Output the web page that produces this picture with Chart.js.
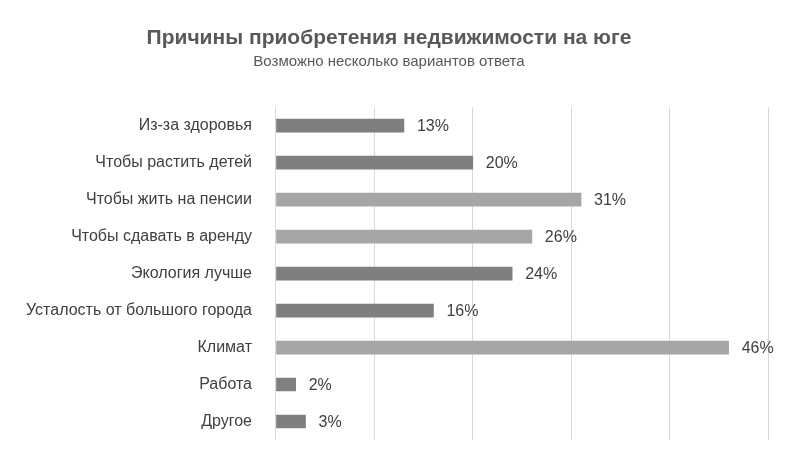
<!DOCTYPE html>
<html><head><meta charset="utf-8">
<script src="https://cdn.jsdelivr.net/npm/chart.js@4/dist/chart.umd.min.js"></script>
<style>body{margin:0;background:#fff}</style>
</head><body><canvas id="chart" width="800" height="470"></canvas>
<script>
const categories = ['Из-за здоровья','Чтобы растить детей','Чтобы жить на пенсии','Чтобы сдавать в аренду','Экология лучше','Усталость от большого города','Климат','Работа','Другое'];
const values = [13, 20, 31, 26, 24, 16, 46, 2, 3];
const highlighted = [false, false, true, true, false, false, true, false, false];

const labelPlugin = {
    id: 'labels',
    afterDatasetsDraw(chart) {
        const ctx = chart.ctx;
        ctx.save();
        ctx.font = '16px "Liberation Sans", Arial';
        ctx.fillStyle = '#404040';
        ctx.textBaseline = 'middle';
        chart.getDatasetMeta(0).data.forEach((bar, i) => {
            ctx.fillText(values[i] + '%', bar.x + 13, bar.y + 1);
        });
        ctx.restore();
    }
};

new Chart(document.getElementById('chart'), {
    type: 'bar',
    data: {
        labels: categories,
        datasets: [{
            data: values,
            backgroundColor: highlighted.map(h => h ? '#a6a6a6' : '#7f7f7f'),
            barThickness: 13
        }]
    },
    options: {
        indexAxis: 'y',
        responsive: false,
        animation: false,
        devicePixelRatio: 1,
        layout: { padding: { left: 10, right: 32, bottom: 30 } },
        plugins: {
            legend: { display: false },
            tooltip: { enabled: false },
            title: {
                display: true,
                text: 'Причины приобретения недвижимости на юге',
                color: '#595959',
                font: { family: '"Liberation Sans", Arial', size: 21, weight: 'bold' },
                padding: { top: 26, bottom: 2 }
            },
            subtitle: {
                display: true,
                text: 'Возможно несколько вариантов ответа',
                color: '#595959',
                font: { family: '"Liberation Sans", Arial', size: 15 },
                padding: { bottom: 36 }
            }
        },
        scales: {
            x: {
                min: 0, max: 50,
                ticks: { display: false, stepSize: 10 },
                grid: { color: '#d9d9d9', drawTicks: false },
                border: { display: false }
            },
            y: {
                grid: { display: false },
                border: { display: false },
                ticks: { color: '#404040', padding: 16, font: { family: '"Liberation Sans", Arial', size: 16 } }
            }
        }
    },
    plugins: [labelPlugin]
});
</script>
</body></html>
